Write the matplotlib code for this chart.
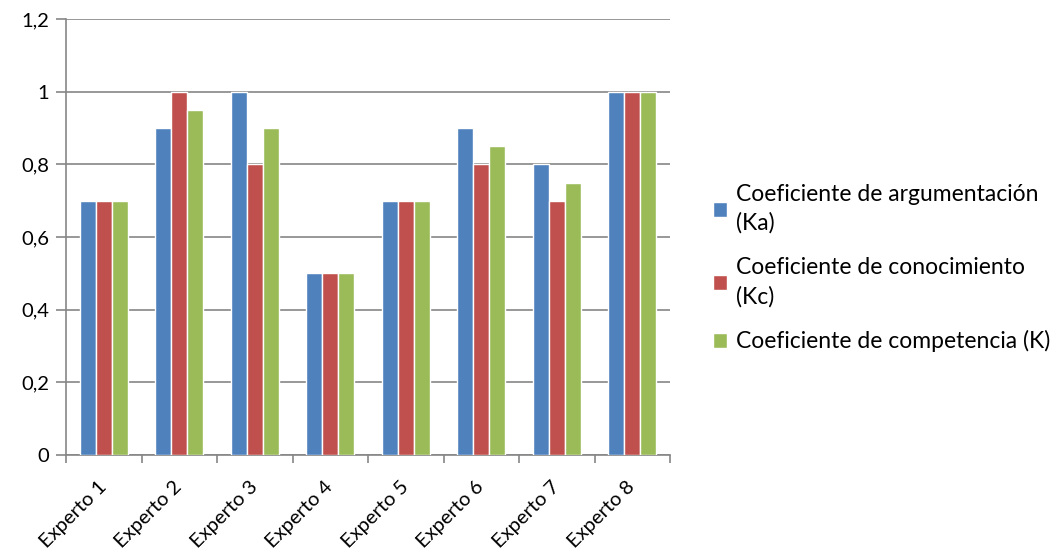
import numpy as np
import matplotlib
matplotlib.use("Agg")
import matplotlib.pyplot as plt
import matplotlib.transforms as mtransforms
from matplotlib.patches import Patch

plt.rcParams['font.family'] = ['Lato', 'DejaVu Sans']

expertos = ['Experto 1', 'Experto 2', 'Experto 3', 'Experto 4',
            'Experto 5', 'Experto 6', 'Experto 7', 'Experto 8']
ka = [0.7, 0.9, 1.0, 0.5, 0.7, 0.9, 0.8, 1.0]
kc = [0.7, 1.0, 0.8, 0.5, 0.7, 0.8, 0.7, 1.0]
k = [0.7, 0.95, 0.9, 0.5, 0.7, 0.85, 0.75, 1.0]
series_names = ['Coeficiente de argumentación\n(Ka)',
                'Coeficiente de conocimiento\n(Kc)',
                'Coeficiente de competencia (K)']
colores = ['#4F81BD', '#C0504D', '#9BBB59']

fig = plt.figure(figsize=(10.6, 5.58), dpi=100)
ax = fig.add_axes([66/1060, 1 - 455/558, (670 - 66)/1060, (455 - 19)/558])

x = np.arange(len(expertos))
w = 0.21
for i, (vals, col) in enumerate(zip([ka, kc, k], colores)):
    ax.bar(x + (i - 1) * w, vals, w, color=col, edgecolor='white',
           linewidth=1.0, zorder=3)

ax.set_xlim(-0.5, len(expertos) - 0.5)
ax.set_ylim(0, 1.2)
yt = np.arange(0, 1.21, 0.2)
ax.set_yticks(yt)
ax.set_yticklabels([f"{v:g}".replace('.', ',') for v in np.round(yt, 1)], fontsize=14.5)
ax.yaxis.grid(True, color='#868686', linewidth=1.2, zorder=0)
ax.set_axisbelow(True)

# category boundary ticks
ax.set_xticks(np.arange(-0.5, len(expertos), 1.0))
ax.set_xticklabels([])
ax.set_xticks(x, minor=True)
ax.set_xticklabels(expertos, minor=True, rotation=45, ha='right', va='center',
                   rotation_mode='anchor', fontsize=14.5)
offset = mtransforms.ScaledTranslation(4/100, 0, fig.dpi_scale_trans)
for lab in ax.get_xticklabels(minor=True):
    lab.set_transform(lab.get_transform() + offset)
ax.tick_params(axis='x', which='major', length=6, color='#868686', width=1.2)
ax.tick_params(axis='x', which='minor', length=0, pad=21)
ax.tick_params(axis='y', length=7, color='#868686', width=1.2, pad=5)

for s in ['top', 'right']:
    ax.spines[s].set_visible(False)
for s in ['left', 'bottom']:
    ax.spines[s].set_color('#868686')
    ax.spines[s].set_linewidth(1.2)

handles = [Patch(facecolor=c, edgecolor='white') for c in colores]
leg = fig.legend(handles, series_names, loc='center left',
                 bbox_to_anchor=(702/1060, 1 - 268/558), frameon=False,
                 fontsize=16.5, handlelength=0.6, handleheight=0.6,
                 handletextpad=0.4, labelspacing=1.0, borderpad=0)
for t in leg.get_texts():
    t.set_linespacing(1.45)

fig.savefig('out.png', dpi=100)
